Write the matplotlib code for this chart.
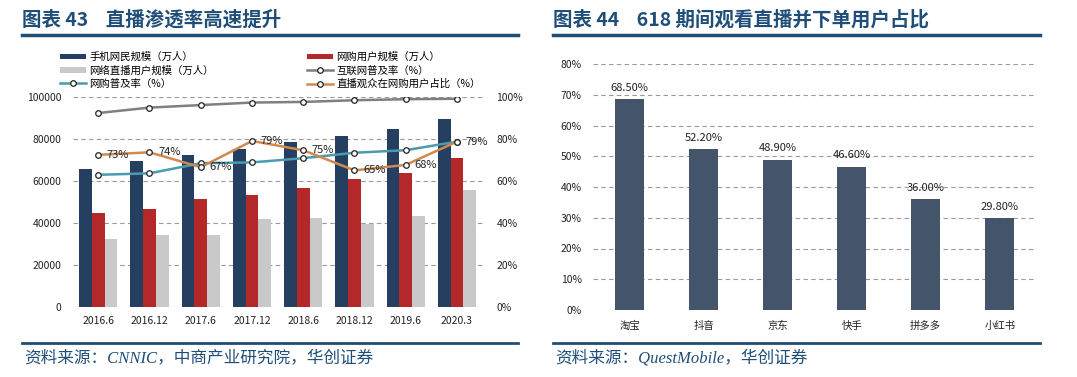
import numpy as np
import matplotlib
matplotlib.use("Agg")
import matplotlib.pyplot as plt
from matplotlib.lines import Line2D

plt.rcParams['font.family'] = ['Noto Sans CJK SC', 'DejaVu Sans']

# ---- 图表43 数据 ----
periods = ['2016.6', '2016.12', '2017.6', '2017.12', '2018.6', '2018.12', '2019.6', '2020.3']
mobile_users = [65637, 69531, 72361, 75265, 78774, 81698, 84681, 89700]   # 手机网民规模（万人）
shop_users = [44772, 46670, 51443, 53332, 56892, 61011, 63882, 71000]     # 网购用户规模（万人）
live_users = [32500, 34400, 34300, 42200, 42500, 39700, 43300, 56000]     # 网络直播用户规模（万人）
net_rate = [92.5, 95.1, 96.3, 97.5, 97.8, 98.6, 99.1, 99.3]              # 互联网普及率（%）
shop_rate = [63.1, 63.8, 68.6, 69.0, 71.0, 73.6, 74.8, 78.9]             # 网购普及率（%）
live_share = [72.6, 73.8, 66.7, 79.2, 74.8, 65.2, 67.8, 78.9]            # 直播观众在网购用户占比（%）

# ---- 图表44 数据 ----
platforms = ['淘宝', '抖音', '京东', '快手', '拼多多', '小红书']
order_share = [68.5, 52.2, 48.9, 46.6, 36.0, 29.8]

W, H = 1077, 377
NAVY = '#243F60'
RED = '#B4282A'
LGRAY = '#C9C9C9'
TITLE_C = '#1F4E79'
GRID_C = '#999999'

fig = plt.figure(figsize=(W / 100, H / 100), dpi=100)


def fx(x):
    return x / W


def fy(y):
    return 1 - y / H


def frame(x0, x1, title, source):
    fig.text(fx(x0), fy(20), title, fontsize=14, fontweight='bold', color=TITLE_C,
             va='center', ha='left')
    fig.add_artist(Line2D([fx(x0), fx(x1)], [fy(35), fy(35)], color=TITLE_C, lw=2.5))
    fig.add_artist(Line2D([fx(x0), fx(x1)], [fy(343), fy(343)], color=TITLE_C, lw=2.0))
    fig.text(fx(x0 + 2), fy(358), source, fontsize=12, color=TITLE_C, style='italic',
             va='center', ha='left', family=['Liberation Serif', 'Noto Sans CJK SC'])


def style_axes(ax):
    for s in ax.spines.values():
        s.set_visible(False)
    ax.tick_params(length=0, labelsize=7.5, colors='#222222')


frame(22, 518, '图表 43    直播渗透率高速提升', '资料来源：CNNIC，中商产业研究院，华创证券')
frame(553, 1040, '图表 44    618 期间观看直播并下单用户占比', '资料来源：QuestMobile，华创证券')

# ---- 左图 ----
ax1 = fig.add_axes([fx(72.6), fy(307.3), fx(410), 210 / H])
x = np.arange(len(periods))
bw = 0.25
ax1.bar(x - bw, mobile_users, bw, color=NAVY, zorder=3, label='手机网民规模（万人）')
ax1.bar(x, shop_users, bw, color=RED, zorder=3, label='网购用户规模（万人）')
ax1.bar(x + bw, live_users, bw, color=LGRAY, zorder=3, label='网络直播用户规模（万人）')
ax1.set_ylim(0, 100000)
ax1.set_xlim(-0.5, 7.5)
ax1.set_yticks(np.arange(0, 100001, 20000))
ax1.set_xticks(x)
ax1.set_xticklabels(periods)
ax1.yaxis.grid(True, ls=(0, (4, 3)), color=GRID_C, lw=0.8)
ax1.set_axisbelow(True)
style_axes(ax1)
ax1.tick_params(axis='y', pad=8)
ax1.tick_params(axis='x', pad=6)

ax2 = ax1.twinx()
ax2.set_ylim(0, 100)
ax2.set_xlim(-0.5, 7.5)
ax2.set_yticks(np.arange(0, 101, 20))
ax2.set_yticklabels([f'{v}%' for v in range(0, 101, 20)])
style_axes(ax2)
ax2.tick_params(axis='y', pad=10)
mk = dict(marker='o', ms=4, mfc='white', mec='#222222', mew=0.9, lw=1.8)
l1, = ax2.plot(x, net_rate, color='#7F7F7F', label='互联网普及率（%）', **mk)
l2, = ax2.plot(x, shop_rate, color='#4A9AB0', label='网购普及率（%）', **mk)
l3, = ax2.plot(x, live_share, color='#D08A50', label='直播观众在网购用户占比（%）', **mk)
for xi, v in zip(x, live_share):
    ax2.text(xi + 0.17, v, f'{round(v)}%', fontsize=8, va='center', ha='left', color='#222222')

h_bar, _ = ax1.get_legend_handles_labels()
handles = [h_bar[0], h_bar[2], l2, h_bar[1], l1, l3]
fig.legend(handles=handles, labels=[h.get_label() for h in handles], ncol=2,
           loc='upper left', bbox_to_anchor=(fx(60), fy(52)), frameon=False,
           fontsize=7.5, handlelength=2.5, handleheight=0.5, handletextpad=0.3,
           labelspacing=0.3, columnspacing=9.0, borderaxespad=0, borderpad=0)

# ---- 右图 ----
ax3 = fig.add_axes([fx(592.7), fy(310), fx(444), 246 / H])
xp = np.arange(len(platforms))
ax3.bar(xp, order_share, 0.39, color='#44546A', zorder=3)
ax3.set_ylim(0, 80)
ax3.set_xlim(-0.5, 5.5)
ax3.set_yticks(np.arange(0, 81, 10))
ax3.set_yticklabels([f'{v}%' for v in range(0, 81, 10)])
ax3.set_xticks(xp)
ax3.set_xticklabels(platforms)
ax3.yaxis.grid(True, ls=(0, (4, 3)), color=GRID_C, lw=0.8)
ax3.set_axisbelow(True)
style_axes(ax3)
ax3.tick_params(axis='y', pad=8)
ax3.tick_params(axis='x', pad=8)
for xi, v in zip(xp, order_share):
    ax3.text(xi, v + 2.2, f'{v:.2f}%', fontsize=8, ha='center', va='bottom', color='#222222')

fig.savefig('out.png', dpi=100)
